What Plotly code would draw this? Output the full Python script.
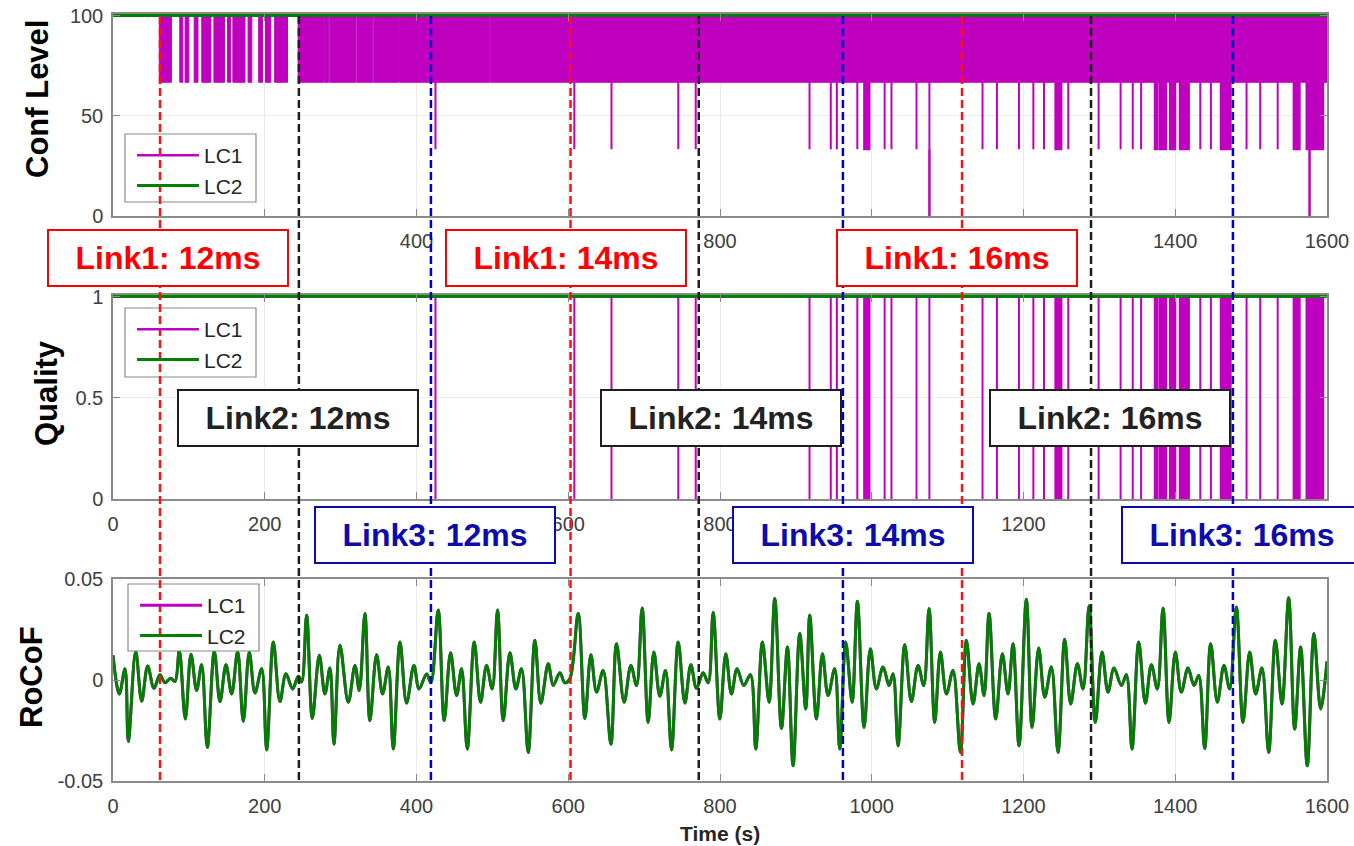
import plotly.graph_objects as go

# ------------------------------------------------------------------ data
time_range = [0, 1600]
link1_times = [62, 603, 1119]     # red dashed markers
link2_times = [245, 772, 1289]    # black dashed markers
link3_times = [419, 962, 1476]    # blue dashed markers
link1_labels = ["Link1: 12ms", "Link1: 14ms", "Link1: 16ms"]
link2_labels = ["Link2: 12ms", "Link2: 14ms", "Link2: 16ms"]
link3_labels = ["Link3: 12ms", "Link3: 14ms", "Link3: 16ms"]

x_ticks = [0, 200, 400, 600, 800, 1000, 1200, 1400, 1600]
x_ticktext_top = ["", "", "400", "", "800", "", "", "1400", "1600"]      # others hidden by boxes
x_ticktext_mid = ["0", "200", "", "600", "800", "", "1200", "", ""]
x_ticktext_bot = ["0", "200", "400", "600", "800", "1000", "1200", "1400", "1600"]

conf_levels = [100, 66.7, 33.3, 0]
quality_levels = [1, 0]

# LC1 confidence toggles between 100 and 66.7 inside these spans
band_start = [61, 88, 95, 107, 117, 133, 151, 158, 178, 192, 201, 213,
              244, 278.6, 285.6, 321.6, 343.6, 377.6, 497.6]
band_end = [77, 92, 100, 112, 129, 147, 155, 174, 183, 197, 208, 230,
            277.4, 284.4, 320.4, 342.4, 376.4, 496.4, 1600]

# LC1 drops (confidence -> 33.3, quality -> 0)
drop_start = [425, 608, 657, 745, 768, 918, 946, 954, 981, 990, 1017, 1026,
              1059, 1076, 1146, 1165, 1194, 1213, 1227, 1242, 1259, 1299,
              1328, 1344, 1355, 1373, 1379, 1393, 1406, 1433, 1447, 1460,
              1494, 1512, 1535, 1556, 1573]
drop_end = [425, 608, 657, 745, 768, 918, 946, 954, 981, 997, 1017, 1026,
            1059, 1076, 1146, 1165, 1194, 1213, 1227, 1250, 1259, 1299,
            1328, 1344, 1355, 1376, 1388, 1400, 1418, 1433, 1447, 1473,
            1494, 1512, 1535, 1564, 1595]
conf_zero_times = [1076, 1577]

rocof_t = [0, 8.3, 15.8, 20.2, 29.9, 37.8, 45.7, 54.0, 61.9, 68.5, 76.0, 81.7,
           87.4, 95.3, 102.8, 110.2, 116.8, 124.3, 133.5, 141.0, 148.9, 156.4,
           164.3, 171.7, 179.6, 187.1, 195.9, 202.5, 211.3, 220.0, 227.9, 236.7,
           244.2, 248.6, 255.2, 262.7, 271.9, 279.3, 285.9, 291.2, 299.1, 310.1,
           318.9, 324.6, 332.0, 338.6, 347.4, 355.3, 362.8, 369.4, 378.2, 386.9,
           396.6, 403.4, 413.3, 419.0, 428.6, 436.5, 444.9, 452.8, 459.4, 466.9,
           476.1, 484.4, 492.3, 499.8, 506.8, 514.3, 523.1, 531.0, 538.4, 547.2,
           556.0, 563.9, 573.6, 580.2, 589.0, 595.5, 602.1, 613.1, 621.9, 629.8,
           637.3, 646.0, 656.2, 663.6, 673.7, 682.5, 690.0, 697.4, 705.3, 712.8,
           720.7, 728.2, 736.1, 744.9, 753.7, 761.6, 769.0, 777.8, 784.4, 791.0,
           799.8, 807.6, 815.1, 822.5, 831.3, 840.1, 847.1, 855.9, 864.7, 872.2,
           881.0, 888.9, 896.3, 905.1, 913.0, 918.3, 927.1, 935.0, 942.4, 951.2,
           957.8, 965.7, 974.1, 981.1, 989.9, 998.2, 1006.1, 1014.9, 1022.8, 1028.1,
           1034.7, 1043.5, 1052.2, 1061.0, 1068.5, 1075.5, 1083.0, 1090.5, 1098.4,
           1107.1, 1116.8, 1124.7, 1133.5, 1141.4, 1148.0, 1154.6, 1163.4, 1172.1,
           1179.6, 1186.2, 1194.1, 1203.8, 1211.3, 1220.0, 1228.0, 1236.7, 1245.5,
           1254.3, 1262.2, 1271.0, 1278.5, 1286.4, 1294.7, 1303.5, 1311.4, 1319.3,
           1329.0, 1335.5, 1343.0, 1351.8, 1360.6, 1368.5, 1376.4, 1383.9, 1391.8,
           1400.1, 1408.0, 1416.8, 1424.7, 1430.9, 1438.8, 1446.7, 1455.5, 1464.2,
           1471.7, 1480.5, 1489.3, 1498.1, 1506.0, 1514.3, 1523.1, 1531.9, 1540.7,
           1549.5, 1557.4, 1565.3, 1574.0, 1582.8, 1591.6, 1600.0]
rocof_v = [0.0122, -0.0069, 0.0056, -0.0304, 0.0142, -0.0105, 0.0069, -0.0041,
           0.0026, -0.0014, 0.0009, -0.0007, 0.0147, -0.0193, 0.0127, -0.0052,
           0.0075, -0.0334, 0.0142, -0.0107, 0.0075, -0.0069, 0.0142, -0.0205,
           0.0138, -0.0064, 0.0056, -0.0346, 0.0188, -0.0107, 0.0031, -0.0044,
           0.0019, -0.0010, 0.0321, -0.0190, 0.0122, -0.0069, 0.0059, -0.0318,
           0.0172, -0.0110, 0.0072, -0.0052, 0.0329, -0.0201, 0.0125, -0.0069,
           0.0064, -0.0342, 0.0188, -0.0114, 0.0072, -0.0044, 0.0030, -0.0014,
           0.0346, -0.0201, 0.0135, -0.0077, 0.0056, -0.0342, 0.0188, -0.0110,
           0.0072, -0.0044, 0.0346, -0.0201, 0.0135, -0.0044, 0.0056, -0.0359,
           0.0197, -0.0115, 0.0080, -0.0027, 0.0036, -0.0014, 0.0006, 0.0329,
           -0.0190, 0.0125, -0.0060, 0.0047, -0.0318, 0.0180, -0.0110, 0.0072,
           -0.0027, 0.0357, -0.0210, 0.0138, -0.0080, 0.0047, -0.0346, 0.0188,
           -0.0114, 0.0075, -0.0041, 0.0036, -0.0014, 0.0334, -0.0193, 0.0130,
           -0.0069, 0.0056, -0.0027, 0.0026, -0.0342, 0.0188, -0.0110, 0.0404,
           -0.0240, 0.0163, -0.0425, 0.0230, -0.0143, 0.0321, -0.0193, 0.0130,
           -0.0077, 0.0056, -0.0342, 0.0188, -0.0110, 0.0390, -0.0235, 0.0155,
           -0.0044, 0.0064, -0.0027, 0.0031, -0.0326, 0.0175, -0.0107, 0.0072,
           -0.0027, 0.0354, -0.0210, 0.0138, -0.0069, 0.0047, -0.0359, 0.0197,
           -0.0119, 0.0080, -0.0077, 0.0329, -0.0193, 0.0130, -0.0069, 0.0180,
           -0.0326, 0.0400, -0.0235, 0.0158, -0.0085, 0.0064, -0.0359, 0.0202,
           -0.0119, 0.0080, -0.0044, 0.0367, -0.0210, 0.0138, -0.0060, 0.0059,
           -0.0027, 0.0026, -0.0342, 0.0188, -0.0115, 0.0075, -0.0044, 0.0357,
           -0.0210, 0.0138, -0.0060, 0.0059, -0.0027, 0.0022, -0.0339, 0.0180,
           -0.0110, 0.0072, -0.0044, 0.0362, -0.0210, 0.0138, -0.0069, 0.0059,
           -0.0359, 0.0197, -0.0119, 0.0407, -0.0243, 0.0163, -0.0425, 0.0230,
           -0.0143, 0.0092]

# ------------------------------------------------------------------ style
W, H = 1354, 846
MAG = "#bf00bf"
GRN = "#008000"
RED = "#ff0000"
BLK = "#1e1e1e"
BLU = "#0000c8"
FONT = "Liberation Sans, Arial, sans-serif"


def px(x):
    return x / W


def py(y):
    return 1 - y / H


def span_polys(starts, ends, top, bottom):
    xs, ys = [], []
    for s, e in zip(starts, ends):
        xs += [s, s, e, e, s, None]
        ys += [top, bottom, bottom, top, top, None]
    return xs, ys


def spikes(times, top, bottom):
    xs, ys = [], []
    for t in times:
        xs += [t, t, None]
        ys += [top, bottom, None]
    return xs, ys


fig = go.Figure()

# ---------------- panel 1: confidence level
bx, by = span_polys(band_start, band_end, conf_levels[0], conf_levels[1])
fig.add_trace(go.Scatter(x=bx, y=by, mode="lines", fill="toself", fillcolor=MAG,
                         line=dict(color=MAG, width=1), showlegend=False,
                         xaxis="x", yaxis="y", hoverinfo="skip"))
dx, dy = span_polys(drop_start, drop_end, conf_levels[1], conf_levels[2])
fig.add_trace(go.Scatter(x=dx, y=dy, mode="lines", fill="toself", fillcolor=MAG,
                         line=dict(color=MAG, width=2), showlegend=False,
                         xaxis="x", yaxis="y", hoverinfo="skip"))
zx, zy = spikes(conf_zero_times, conf_levels[2], conf_levels[3])
fig.add_trace(go.Scatter(x=zx, y=zy, mode="lines", name="LC1",
                         line=dict(color=MAG, width=2.5), legend="legend",
                         xaxis="x", yaxis="y"))
fig.add_trace(go.Scatter(x=time_range, y=[conf_levels[0]] * 2, mode="lines", name="LC2",
                         line=dict(color=GRN, width=3), legend="legend",
                         xaxis="x", yaxis="y"))

# ---------------- panel 2: quality
fig.add_trace(go.Scatter(x=time_range, y=[quality_levels[0]] * 2, mode="lines", name="LC1",
                         line=dict(color=MAG, width=2.5), legend="legend2",
                         xaxis="x2", yaxis="y2"))
qx, qy = span_polys(drop_start, drop_end, quality_levels[0], quality_levels[1])
fig.add_trace(go.Scatter(x=qx, y=qy, mode="lines", fill="toself", fillcolor=MAG,
                         line=dict(color=MAG, width=2), showlegend=False,
                         xaxis="x2", yaxis="y2", hoverinfo="skip"))
fig.add_trace(go.Scatter(x=time_range, y=[quality_levels[0]] * 2, mode="lines", name="LC2",
                         line=dict(color=GRN, width=3), legend="legend2",
                         xaxis="x2", yaxis="y2"))

# ---------------- panel 3: RoCoF
fig.add_trace(go.Scatter(x=rocof_t, y=rocof_v, mode="lines", name="LC1",
                         line=dict(color=MAG, width=3, shape="spline", smoothing=1),
                         legend="legend3", xaxis="x3", yaxis="y3"))
fig.add_trace(go.Scatter(x=rocof_t, y=rocof_v, mode="lines", name="LC2",
                         line=dict(color=GRN, width=3, shape="spline", smoothing=1),
                         legend="legend3", xaxis="x3", yaxis="y3"))

# ---------------- axes
xdom = [px(113), px(1327)]
tickfont = dict(family=FONT, size=20, color="#404040")
axis_common = dict(showline=True, linecolor="#8a8a8a", linewidth=1.5, mirror="ticks",
                   ticks="inside", ticklen=7, tickcolor="#8a8a8a", tickwidth=1,
                   showgrid=True, gridcolor="#ebebeb", gridwidth=1, zeroline=False,
                   tickfont=tickfont, automargin=False)
for ax, anc, ttxt in [("xaxis", "y", x_ticktext_top), ("xaxis2", "y2", x_ticktext_mid),
                      ("xaxis3", "y3", x_ticktext_bot)]:
    fig.layout[ax] = dict(axis_common, domain=xdom, range=time_range, tickvals=x_ticks,
                          ticktext=ttxt, anchor=anc, ticklabelstandoff=6)

fig.layout.yaxis = dict(axis_common, domain=[py(216), py(14)], range=[0, 100.75],
                        tickvals=[0, 50, 100], anchor="x", ticklabelstandoff=4)
fig.layout.yaxis2 = dict(axis_common, domain=[py(499), py(295)], range=[0, 1.0074],
                         tickvals=[0, 0.5, 1], ticktext=["0", "0.5", "1"], anchor="x2",
                         ticklabelstandoff=4)
fig.layout.yaxis3 = dict(axis_common, domain=[py(781), py(579)], range=[-0.05, 0.05],
                         tickvals=[-0.05, 0, 0.05], ticktext=["-0.05", "0", "0.05"],
                         anchor="x3", ticklabelstandoff=4)

# ---------------- legends (drawn over white boxes placed as shapes)
legend_boxes = [(125, 134, 256, 202), (125, 308, 256, 377), (128, 584, 259, 651)]
shapes = []
for (x0, y0, x1, y1) in legend_boxes:
    shapes.append(dict(type="rect", xref="paper", yref="paper", x0=px(x0), x1=px(x1),
                       y0=py(y1), y1=py(y0), fillcolor="white",
                       line=dict(color="#8a8a8a", width=1.2), layer="above"))
for times, col in [(link1_times, "#ff1010"), (link2_times, BLK), (link3_times, BLU)]:
    for t in times:
        shapes.append(dict(type="line", xref="x3", yref="paper", x0=t, x1=t,
                           y0=py(780), y1=py(14),
                           line=dict(color=col, width=2.5, dash="8px,4px"), layer="above"))
fig.layout.shapes = shapes

legfont = dict(family=FONT, size=21, color="#262626")
for name, (x0, y0, x1, y1) in zip(["legend", "legend2", "legend3"], legend_boxes):
    fig.layout[name] = dict(x=px(x0 + 7), y=py(y0 + 1), xanchor="left", yanchor="top",
                            bgcolor="rgba(0,0,0,0)", borderwidth=0, font=legfont,
                            itemwidth=62, tracegroupgap=0)

# ---------------- annotations
annos = []
rows = [(link1_labels, [168, 566, 957], 258, RED, RED),
        (link2_labels, [298, 721, 1110], 418, BLK, "#222222"),
        (link3_labels, [435, 853, 1242], 535, "#0a0ab4", "#0c0cae")]
for labels, xs, yc, bcol, tcol in rows:
    for lab, xc in zip(labels, xs):
        annos.append(dict(text=lab, xref="paper", yref="paper", x=px(xc), y=py(yc),
                          xanchor="center", yanchor="middle", showarrow=False,
                          font=dict(family=FONT, size=32, color=tcol, weight="bold"),
                          bgcolor="white", bordercolor=bcol, borderwidth=2, borderpad=1,
                          width=236, height=52, align="center", valign="middle"))
ytitle_font = dict(family=FONT, size=31, color="black", weight="bold")
for txt, xc, yc in [("Conf Level", 37, 99), ("Quality", 46, 393), ("RoCoF", 31, 677)]:
    annos.append(dict(text=txt, xref="paper", yref="paper", x=px(xc), y=py(yc),
                      xanchor="center", yanchor="middle", showarrow=False, textangle=-90,
                      font=ytitle_font))
annos.append(dict(text="Time (s)", xref="paper", yref="paper", x=px(720), y=py(833),
                  xanchor="center", yanchor="middle", showarrow=False,
                  font=dict(family=FONT, size=21, color="#262626", weight="bold")))
fig.layout.annotations = annos

fig.update_layout(width=W, height=H, margin=dict(l=0, r=0, t=0, b=0),
                  paper_bgcolor="white", plot_bgcolor="white",
                  font=dict(family=FONT), hovermode=False)

fig.write_html("out.html")
